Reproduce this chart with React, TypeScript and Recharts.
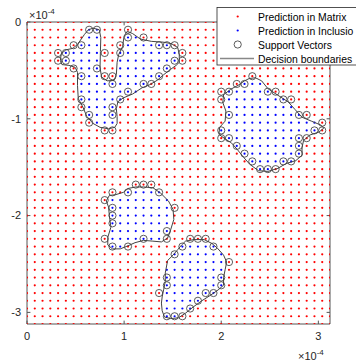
import { ReferenceArea, ReferenceLine, Scatter, ScatterChart, XAxis, YAxis } from "recharts";

// evaluation grid (units of 1e-4), 40 x 40 points from 0 to 3.12
const STEP = 0.08;
const GRID_N = 40;
const xTicks = [0, 1, 2, 3];
const yTicks = [-3, -2, -1, 0];

// decision boundaries, in grid units [col, row] (row counts downwards from y = 0)
const boundaryTopLeft = [
  [7.4, 1.6], [7.9, 1.0], [8.5, 0.8], [9.3, 1.0], [9.5, 2.0], [9.45, 3.8], [9.4, 5.9], [9.6, 7.1],
  [10.3, 7.6], [11.2, 7.55], [11.5, 6.8], [11.6, 5.2], [11.8, 4.2], [12.3, 3.2], [12.5, 1.8], [12.9, 1.2],
  [13.6, 1.5], [14.6, 2.2], [16.0, 2.5], [17.5, 2.6], [18.6, 2.8], [19.4, 3.3], [19.6, 4.2], [19.6, 5.2],
  [19.2, 5.6], [18.5, 6.1], [17.6, 6.8], [16.8, 7.5], [15.8, 8.1], [14.8, 8.5], [13.6, 9.3], [12.4, 9.8],
  [11.7, 10.3], [11.5, 11.2], [11.6, 12.2], [11.6, 13.1], [11.3, 13.6], [10.5, 13.8], [9.4, 13.6], [8.5, 13.1],
  [7.7, 12.2], [7.2, 11.0], [6.6, 9.9], [6.5, 8.2], [6.5, 6.5], [6.2, 5.85], [5.4, 5.6], [4.5, 5.5],
  [4.3, 5.0], [4.4, 4.1], [5.0, 3.6], [5.9, 3.4], [6.5, 2.9],
];
const boundaryRight = [
  [28.6, 7.3], [29.4, 7.2], [30.2, 7.6], [31.0, 8.6], [32.2, 9.4], [33.6, 10.3], [34.5, 11.3], [35.4, 12.3],
  [36.6, 12.8], [37.8, 13.3], [38.2, 13.7], [37.6, 14.2], [36.4, 14.6], [35.6, 15.3], [35.4, 16.2], [35.4, 17.2],
  [34.6, 17.9], [33.3, 18.3], [32.3, 18.9], [31.0, 19.3], [29.8, 19.2], [28.7, 18.4], [27.9, 17.5], [27.1, 16.5],
  [26.3, 15.6], [25.5, 15.1], [24.7, 14.5], [24.8, 13.6], [25.5, 12.8], [25.6, 11.5], [25.2, 10.4], [25.3, 9.4],
  [26.2, 8.7], [27.3, 8.1], [28.0, 7.6],
];
const boundaryMiddle = [
  [13.0, 21.5], [14.0, 21.3], [15.0, 21.3], [16.2, 21.4], [17.2, 22.1], [18.2, 23.1], [18.8, 24.2], [18.9, 25.5],
  [18.5, 26.8], [18.1, 27.9], [17.3, 28.4], [16.2, 28.3], [15.0, 28.2], [13.9, 28.5], [13.0, 28.9], [12.0, 29.3],
  [11.0, 29.3], [10.4, 28.8], [10.4, 27.8], [10.8, 26.5], [10.6, 25.0], [10.5, 23.9], [10.2, 23.1], [10.6, 22.4],
  [11.4, 22.3], [12.4, 22.0],
];
const boundaryBottom = [
  [20.4, 28.3], [21.5, 28.1], [22.8, 28.1], [23.8, 28.6], [24.5, 29.2], [25.3, 30.1], [25.7, 31.0], [25.5, 32.0],
  [25.3, 33.0], [25.3, 34.0], [24.6, 34.6], [23.6, 35.3], [22.5, 36.0], [21.4, 36.8], [20.4, 37.6], [19.5, 38.2],
  [18.5, 38.3], [17.7, 38.1], [17.4, 37.3], [17.3, 36.3], [17.4, 35.5], [17.6, 34.5], [17.8, 33.5], [17.8, 32.4],
  [18.1, 30.8], [18.8, 30.1], [19.4, 29.4], [19.9, 28.8],
];

// support vectors, grid [col, row]
const supportVectors = [
  [8, 1], [9, 1], [6, 3], [7, 3], [12, 3], [4, 4], [5, 4], [10, 4], [12, 4], [4, 5], [5, 5], [6, 6], [9, 6],
  [7, 7], [10, 7], [11, 7], [11, 8], [7, 10], [12, 10], [7, 11], [11, 11], [8, 12], [11, 12], [8, 13],
  [10, 14], [11, 14],
  [13, 1], [13, 2], [15, 2], [17, 3], [18, 3], [19, 3], [20, 4], [20, 5], [19, 5], [18, 6], [17, 7],
  [15, 8], [16, 8], [13, 9],
  [29, 7], [27, 8], [28, 8], [25, 9], [26, 9], [25, 10], [31, 9], [32, 9], [33, 10], [34, 10], [26, 12],
  [35, 12], [36, 12], [38, 13], [37, 14], [38, 14], [25, 14], [25, 15], [26, 15], [35, 15], [36, 15],
  [35, 16], [35, 17], [34, 18], [33, 18], [32, 19], [31, 19], [30, 19], [27, 16], [28, 17], [29, 18],
  [14, 21], [15, 21], [16, 21], [11, 22], [13, 22], [17, 22], [10, 23], [11, 24], [11, 25], [11, 26],
  [19, 24], [18, 27], [10, 28], [15, 28], [18, 28], [11, 29], [13, 29],
  [21, 28], [22, 28], [23, 28], [20, 29], [24, 29], [19, 30], [26, 31], [18, 33], [25, 33], [18, 34],
  [25, 34], [17, 35], [23, 35], [24, 35], [22, 36], [21, 37], [18, 38], [19, 38], [20, 38],
];

const boundaries = [boundaryTopLeft, boundaryRight, boundaryMiddle, boundaryBottom];

const toXY = ([c, r]: number[]) => ({ x: c * STEP, y: -r * STEP });

function inside(c: number, r: number, poly: number[][]) {
  let hit = false;
  for (let i = 0, j = poly.length - 1; i < poly.length; j = i++) {
    const [xi, yi] = poly[i];
    const [xj, yj] = poly[j];
    if (yi > r !== yj > r && c < ((xj - xi) * (r - yi)) / (yj - yi) + xi) hit = !hit;
  }
  return hit;
}

const matrixPts: { x: number; y: number }[] = [];
const inclusionPts: { x: number; y: number }[] = [];
for (let r = 0; r < GRID_N; r++) {
  for (let c = 0; c < GRID_N; c++) {
    const inInc = boundaries.some((b) => inside(c, r, b));
    (inInc ? inclusionPts : matrixPts).push(toXY([c, r]));
  }
}
const svPts = supportVectors.map(toXY);
const boundaryLines = boundaries.map((b) => [...b, b[0]].map(toXY));

const FONT = "'Liberation Sans', Arial, sans-serif";
const AXIS = "#262626";
const TL = 0.035;

const redDot = (p: any) => <circle cx={p.cx} cy={p.cy} r={1.1} fill="#ff0000" />;
const blueDot = (p: any) => <circle cx={p.cx} cy={p.cy} r={1.1} fill="#0000ff" />;
const ring = (p: any) => <circle cx={p.cx} cy={p.cy} r={3.6} fill="none" stroke="#333" strokeWidth={0.8} />;
const noDot = () => <g />;

export default function App() {
  return (
    <div style={{ position: "absolute", left: 0, top: 0, width: 356, height: 363, background: "#fff", fontFamily: FONT }}>
      <ScatterChart width={356} height={363} margin={{ top: 22, right: 26, left: 0, bottom: 0 }}>
        <XAxis
          dataKey="x"
          type="number"
          domain={[0, 3.12]}
          ticks={xTicks}
          allowDataOverflow
          axisLine={false}
          tickLine={false}
          tickSize={0}
          tickMargin={8}
          height={39}
          tick={{ fontSize: 11, fill: AXIS, fontFamily: FONT }}
        />
        <YAxis
          dataKey="y"
          type="number"
          domain={[-3.12, 0]}
          ticks={yTicks}
          allowDataOverflow
          axisLine={false}
          tickLine={false}
          tickSize={0}
          tickMargin={6}
          width={27}
          tick={{ fontSize: 11, fill: AXIS, fontFamily: FONT }}
        />
        <ReferenceArea x1={0} x2={3.12} y1={-3.12} y2={0} fill="none" stroke="#555" strokeWidth={1} />
        {xTicks.map((t) => (
          <ReferenceLine key={"xb" + t} segment={[{ x: t, y: -3.12 }, { x: t, y: -3.12 + TL }]} stroke="#555" />
        ))}
        {xTicks.map((t) => (
          <ReferenceLine key={"xt" + t} segment={[{ x: t, y: 0 }, { x: t, y: -TL }]} stroke="#555" />
        ))}
        {yTicks.map((t) => (
          <ReferenceLine key={"yl" + t} segment={[{ x: 0, y: t }, { x: TL, y: t }]} stroke="#555" />
        ))}
        {yTicks.map((t) => (
          <ReferenceLine key={"yr" + t} segment={[{ x: 3.12, y: t }, { x: 3.12 - TL, y: t }]} stroke="#555" />
        ))}
        <Scatter data={matrixPts} shape={redDot} isAnimationActive={false} />
        <Scatter data={inclusionPts} shape={blueDot} isAnimationActive={false} />
        <Scatter data={svPts} shape={ring} isAnimationActive={false} />
        {boundaryLines.map((pts, i) => (
          <Scatter
            key={i}
            data={pts}
            shape={noDot}
            line={{ stroke: "#444", strokeWidth: 1 }}
            lineType="joint"
            isAnimationActive={false}
          />
        ))}
      </ScatterChart>
      <svg width={356} height={363} style={{ position: "absolute", left: 0, top: 0, pointerEvents: "none" }}>
        <text x={29} y={18.5} fontSize={11} fill={AXIS} fontFamily={FONT}>
          ×10<tspan dy={-5} fontSize={8}>-4</tspan>
        </text>
        <text x={298} y={360} fontSize={11} fill={AXIS} fontFamily={FONT}>
          ×10<tspan dy={-5} fontSize={8}>-4</tspan>
        </text>
        <rect x={217} y={7.5} width={150} height={57.5} fill="#fff" stroke={AXIS} strokeWidth={0.8} />
        <circle cx={237.7} cy={16.5} r={1.1} fill="#ff0000" />
        <circle cx={237.7} cy={30.5} r={1.1} fill="#0000ff" />
        <circle cx={237.7} cy={44.5} r={3.6} fill="none" stroke="#333" strokeWidth={0.8} />
        <line x1={220} x2={254} y1={58.5} y2={58.5} stroke="#888" strokeWidth={1.5} />
        <g fontSize={10.4} fill="#000" fontFamily={FONT}>
          <text x={258} y={20.5}>Prediction in Matrix</text>
          <text x={258} y={34.5}>Prediction in Inclusio</text>
          <text x={258} y={48.5}>Support Vectors</text>
          <text x={258} y={62.5}>Decision boundaries</text>
        </g>
      </svg>
    </div>
  );
}
